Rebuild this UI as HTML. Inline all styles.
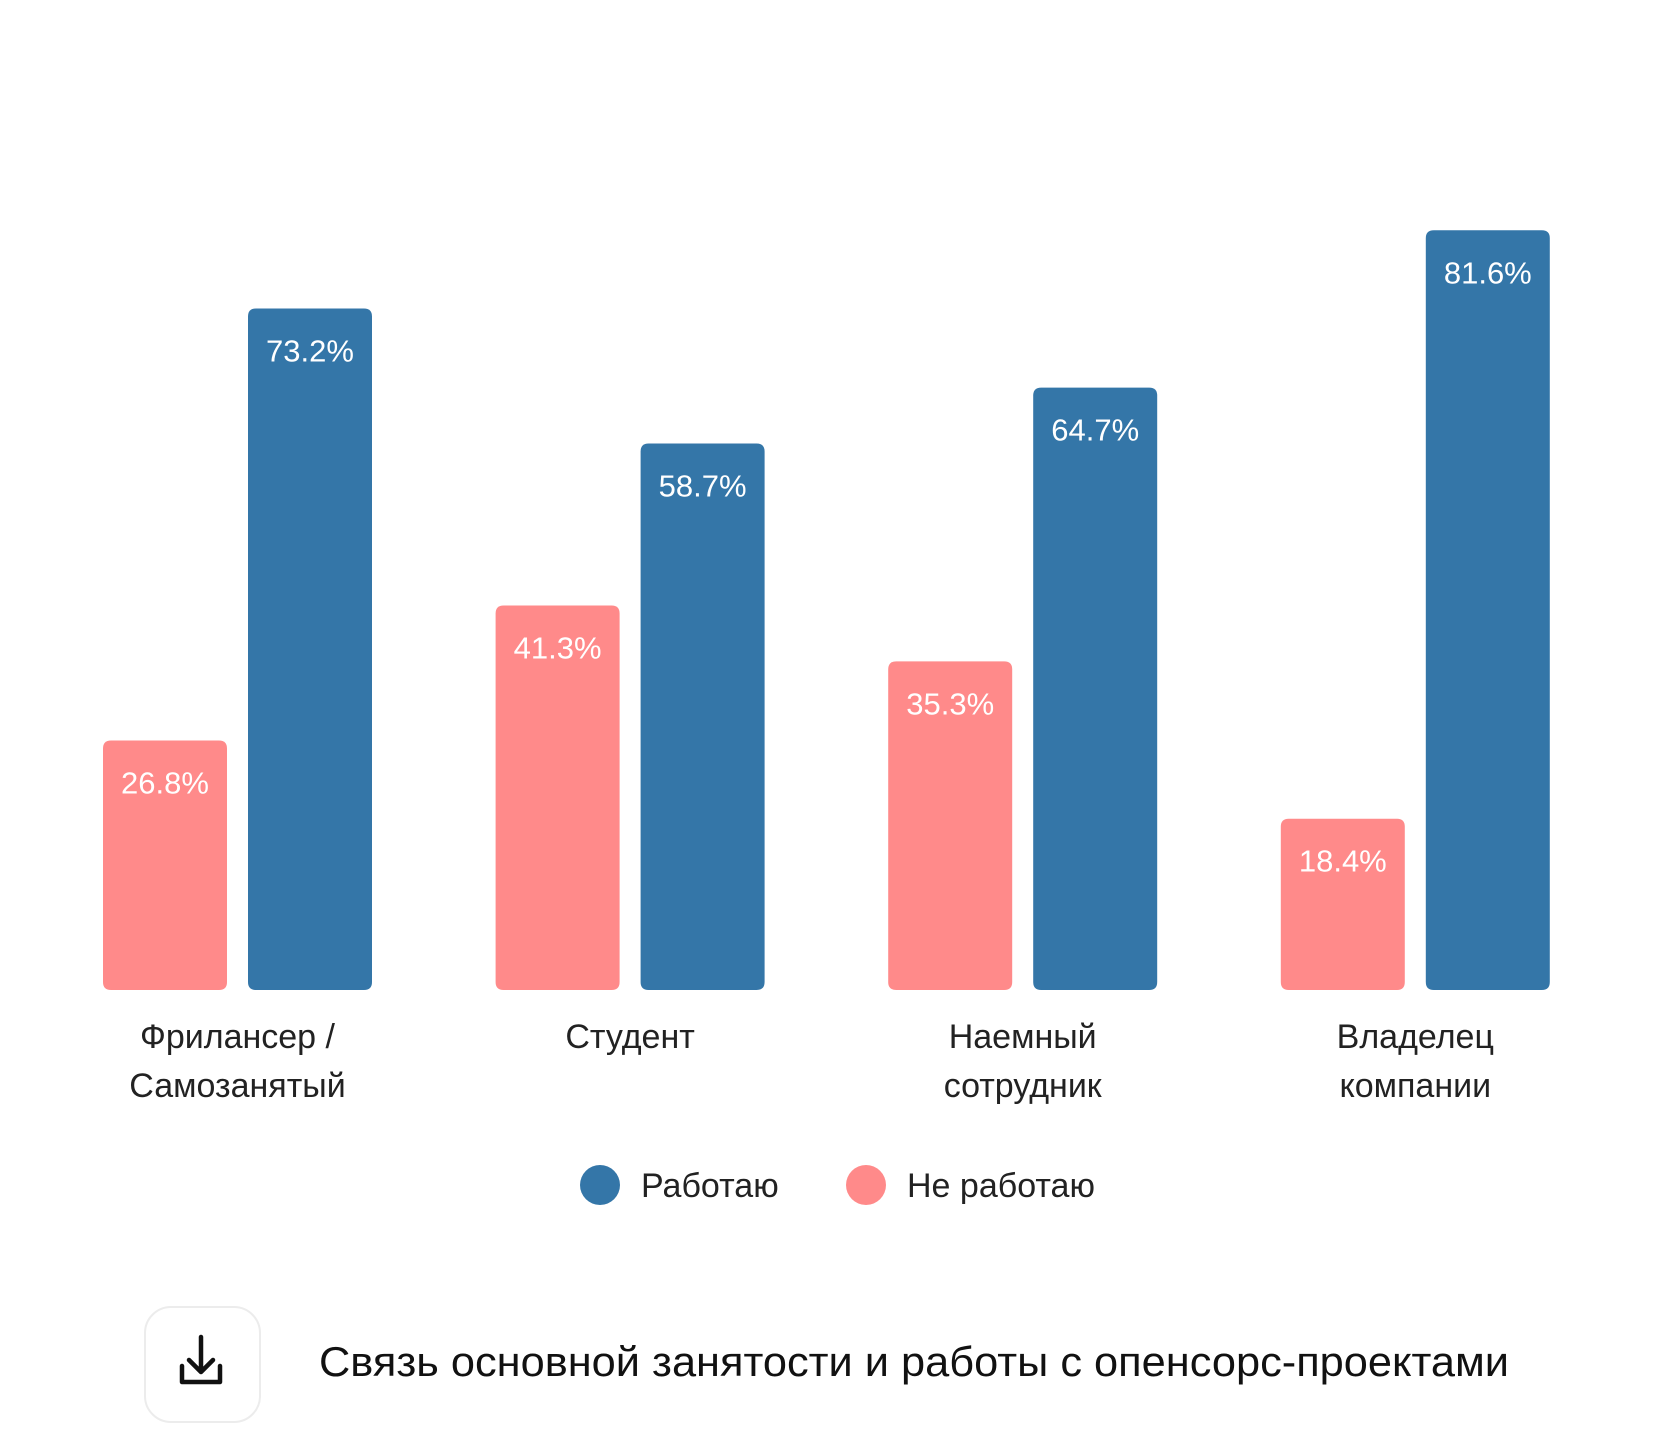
<!DOCTYPE html>
<html><head><meta charset="utf-8"><style>
html,body{margin:0;padding:0;background:#fff;}
svg{display:block;font-family:"Liberation Sans","DejaVu Sans",sans-serif;}
</style></head><body>
<svg id="chart" width="1680" height="1442" viewBox="0 0 1680 1442" xmlns="http://www.w3.org/2000/svg">
<g id="bars"></g>
<g id="cats"></g>
<g>
  <g>
    <circle cx="600" cy="1185" r="20" fill="#3476a8"/>
    <text x="641" y="1197" font-size="34" fill="#222">Работаю</text>
  </g>
  <g>
    <circle cx="866" cy="1185" r="20" fill="#ff8a8a"/>
    <text x="907" y="1197" font-size="34" fill="#222">Не работаю</text>
  </g>
</g>
<g>
  <rect x="145" y="1307" width="115" height="115" rx="26" fill="#fff" stroke="#ececec" stroke-width="2"/>
  <path d="M201 1337 V1372 M189 1360 L201 1372 L213 1360 M182 1366 V1382 H220 V1366" fill="none" stroke="#111" stroke-width="4.5" stroke-linecap="round" stroke-linejoin="round"/>
</g>
<text x="319" y="1376" font-size="42" fill="#111" textLength="1190" lengthAdjust="spacingAndGlyphs">Связь основной занятости и работы с опенсорс-проектами</text>
</svg>
<script>
const categories = [["Фрилансер /","Самозанятый"],["Студент"],["Наемный","сотрудник"],["Владелец","компании"]];
const notWorking = [26.8, 41.3, 35.3, 18.4];
const working = [73.2, 58.7, 64.7, 81.6];
const NS = "http://www.w3.org/2000/svg";
const baseY = 990, pxPer = 9.31, groupX0 = 103, groupStep = 392.6, barW = 124, gap = 21;
const y = v => baseY - v * pxPer;
const bars = document.getElementById('bars');
const cats = document.getElementById('cats');
function addBar(x, v, color, name) {
  const t = y(v), r = 8;
  const p = document.createElementNS(NS, 'path');
  p.setAttribute('d', `M${x} ${baseY-r} V${t+r} Q${x} ${t} ${x+r} ${t} H${x+barW-r} Q${x+barW} ${t} ${x+barW} ${t+r} V${baseY-r} Q${x+barW} ${baseY} ${x+barW-r} ${baseY} H${x+r} Q${x} ${baseY} ${x} ${baseY-r} Z`);
  p.setAttribute('fill', color);
  
  
  bars.appendChild(p);
  const tx = document.createElementNS(NS, 'text');
  tx.setAttribute('x', x + barW / 2);
  tx.setAttribute('y', t + 53);
  tx.setAttribute('text-anchor', 'middle');
  tx.setAttribute('font-size', '31');
  tx.setAttribute('fill', '#fff');
  tx.textContent = v.toFixed(1) + '%';
  
  
  bars.appendChild(tx);
}
categories.forEach((c, i) => {
  const gx = groupX0 + i * groupStep;
  addBar(gx, notWorking[i], '#ff8a8a', 'bar-not-working-' + i);
  addBar(gx + barW + gap, working[i], '#3476a8', 'bar-working-' + i);
  const cx = gx + barW + gap / 2;
  c.forEach((line, j) => {
    const t = document.createElementNS(NS, 'text');
    t.setAttribute('x', cx);
    t.setAttribute('y', 1048 + j * 49);
    t.setAttribute('text-anchor', 'middle');
    t.setAttribute('font-size', '34');
    t.setAttribute('fill', '#222');
    t.textContent = line;
    
    
    cats.appendChild(t);
  });
});
</script>
</body></html>
